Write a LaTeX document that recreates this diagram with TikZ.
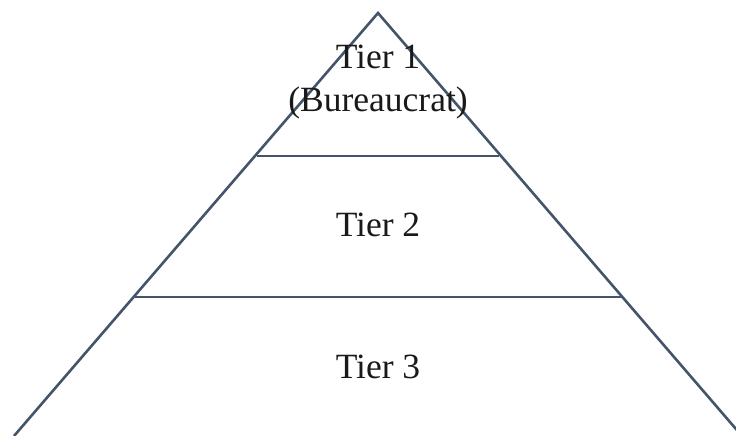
\documentclass[tikz,border=0pt]{standalone}
\usepackage{fontspec}
\setmainfont{Liberation Serif}
\usetikzlibrary{calc}
\definecolor{edge}{HTML}{44546A}
\tikzset{
  side/.style={draw=edge, line width=2.6pt},
  tierlabel/.style={font=\fontsize{35.5}{40}\selectfont, text=black!90, inner sep=0pt, anchor=center}
}
\begin{document}
\begin{tikzpicture}[x=1pt,y=-1pt]
\useasboundingbox (0,0) rectangle (736,436);
\clip (0,0) rectangle (736,436);
\coordinate (apex) at (378,13);
\coordinate (bl) at (14,436);
\coordinate (br) at (742,436);
\draw[side] (bl) -- (apex) -- (br);
\coordinate (l1) at (257,156);
\coordinate (r1) at (499,156);
\coordinate (l2) at (135,297);
\coordinate (r2) at (622,297);
\draw[side] (l1) -- (r1);
\draw[side] (l2) -- (r2);
\node[tierlabel] (t1) at (378,57) {Tier 1};
\node[tierlabel] (t1b) at (378,103) {(Bureaucrat)};
\node[tierlabel] (t2) at (378,225) {Tier 2};
\node[tierlabel] (t3) at (378,367) {Tier 3};
\end{tikzpicture}
\end{document}
